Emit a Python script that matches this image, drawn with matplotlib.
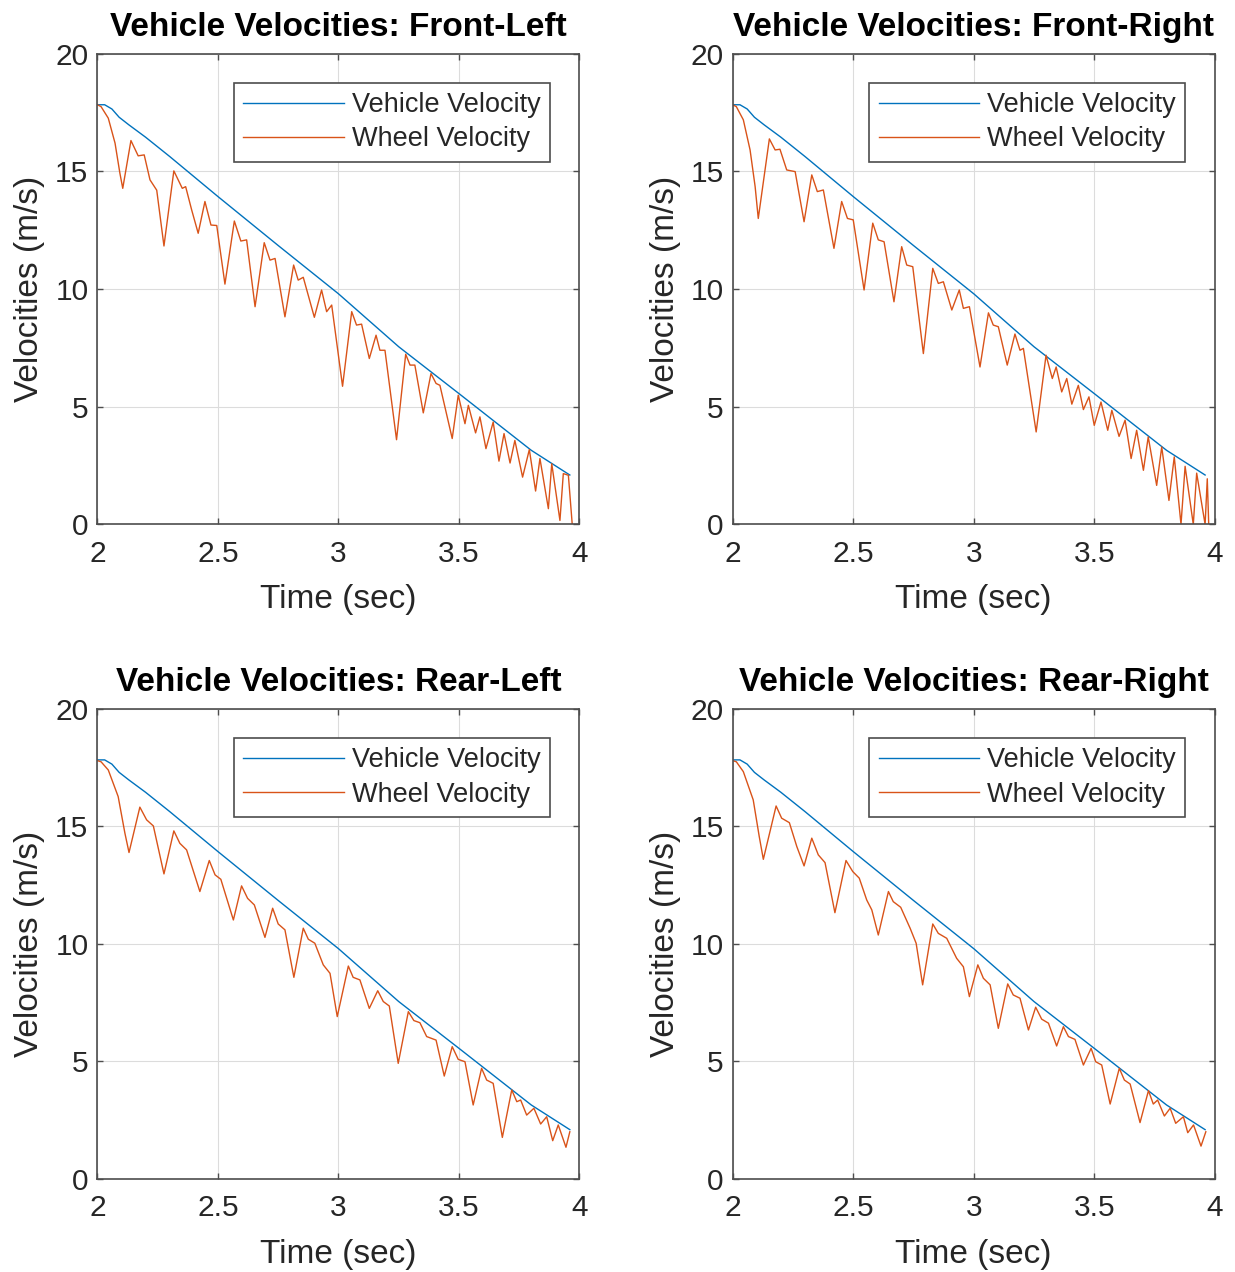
"""
Vehicle vs. wheel velocity during an ABS stop, one panel per wheel.

Saves out.png in the working directory.
"""
import matplotlib.pyplot as plt

plt.rcParams['font.family'] = ['Liberation Sans', 'DejaVu Sans']

VEH_COLOR = '#0072BD'
WHEEL_COLOR = '#D95319'
AX_COLOR = '#262626'

CORNERS = ['Front-Left', 'Front-Right', 'Rear-Left', 'Rear-Right']

# vehicle speed (same trace in every panel)
VEH_T = [2.00, 2.03, 2.06, 2.09, 2.13, 2.20, 2.30, 2.50, 2.75, 3.00, 3.25, 3.50, 3.80, 3.96]
VEH_V = [17.83, 17.83, 17.65, 17.30, 16.98, 16.45, 15.63, 13.93, 11.85, 9.80, 7.55, 5.56, 3.15, 2.10]

# wheel speeds, read peak/trough by peak/trough
FL_T = [2.000, 2.015, 2.045, 2.073, 2.093, 2.105, 2.139, 2.169, 2.194, 2.218, 2.246, 2.276,
        2.317, 2.352, 2.366, 2.391, 2.418, 2.446, 2.471, 2.495, 2.529, 2.568, 2.595, 2.619,
        2.654, 2.692, 2.716, 2.737, 2.778, 2.814, 2.833, 2.854, 2.900, 2.930, 2.951, 2.972,
        3.017, 3.055, 3.075, 3.096, 3.128, 3.156, 3.172, 3.193, 3.241, 3.279, 3.297, 3.317,
        3.352, 3.384, 3.405, 3.421, 3.472, 3.497, 3.525, 3.539, 3.569, 3.587, 3.612, 3.642,
        3.666, 3.687, 3.712, 3.732, 3.764, 3.792, 3.818, 3.836, 3.871, 3.885, 3.919, 3.933,
        3.954, 3.970]
FL_V = [17.83, 17.75, 17.26, 16.20, 14.93, 14.28, 16.31, 15.66, 15.70, 14.64, 14.20, 11.83,
        15.02, 14.28, 14.35, 13.36, 12.37, 13.72, 12.72, 12.70, 10.21, 12.89, 12.04, 12.09,
        9.25, 11.97, 11.23, 11.30, 8.82, 11.02, 10.38, 10.50, 8.80, 9.96, 9.04, 9.32,
        5.87, 9.04, 8.47, 8.51, 7.05, 8.04, 7.40, 7.40, 3.60, 7.23, 6.77, 6.77,
        4.74, 6.41, 5.99, 5.91, 3.65, 5.49, 4.28, 5.06, 3.89, 4.57, 3.22, 4.35,
        2.69, 3.86, 2.61, 3.57, 2.01, 3.18, 1.42, 2.80, 0.67, 2.58, 0.17, 2.16,
        2.09, 0.00]

FR_T = [2.000, 2.015, 2.044, 2.072, 2.093, 2.106, 2.152, 2.176, 2.196, 2.224, 2.259, 2.296,
        2.328, 2.351, 2.376, 2.420, 2.452, 2.476, 2.500, 2.545, 2.581, 2.604, 2.628, 2.669,
        2.701, 2.722, 2.747, 2.791, 2.830, 2.853, 2.874, 2.909, 2.940, 2.957, 2.982, 3.026,
        3.061, 3.081, 3.102, 3.139, 3.171, 3.192, 3.206, 3.259, 3.300, 3.326, 3.342, 3.365,
        3.386, 3.407, 3.434, 3.455, 3.478, 3.500, 3.528, 3.556, 3.573, 3.603, 3.628, 3.653,
        3.676, 3.704, 3.724, 3.759, 3.780, 3.810, 3.832, 3.860, 3.877, 3.911, 3.925, 3.960,
        3.969, 3.975]
FR_V = [17.83, 17.75, 17.19, 15.91, 14.35, 13.00, 16.38, 15.91, 15.94, 15.06, 14.99, 12.86,
        14.85, 14.14, 14.21, 11.73, 13.72, 13.00, 12.94, 9.96, 12.80, 12.09, 12.01, 9.46,
        11.80, 11.02, 10.95, 7.26, 10.88, 10.24, 10.31, 9.11, 9.96, 9.18, 9.25, 6.69,
        8.99, 8.47, 8.40, 6.77, 8.09, 7.40, 7.48, 3.93, 7.19, 6.20, 6.69, 5.63,
        6.20, 5.11, 5.91, 4.88, 5.42, 4.21, 5.20, 4.00, 4.85, 3.74, 4.43, 2.80,
        4.00, 2.30, 3.72, 1.66, 3.29, 1.02, 2.87, 0.00, 2.47, 0.00, 2.18, 0.00,
        1.94, 0.00]

RL_T = [2.000, 2.015, 2.045, 2.086, 2.114, 2.131, 2.176, 2.204, 2.232, 2.276, 2.317, 2.342,
        2.370, 2.425, 2.464, 2.488, 2.512, 2.564, 2.598, 2.623, 2.651, 2.695, 2.727, 2.750,
        2.778, 2.815, 2.854, 2.875, 2.902, 2.937, 2.965, 2.995, 3.041, 3.061, 3.089, 3.128,
        3.163, 3.186, 3.211, 3.248, 3.290, 3.313, 3.338, 3.366, 3.405, 3.439, 3.472, 3.497,
        3.525, 3.559, 3.594, 3.615, 3.642, 3.680, 3.719, 3.740, 3.756, 3.781, 3.811, 3.839,
        3.864, 3.889, 3.912, 3.944, 3.960]
RL_V = [17.80, 17.75, 17.40, 16.27, 14.71, 13.89, 15.82, 15.28, 15.02, 12.98, 14.81, 14.28,
        14.00, 12.23, 13.55, 12.94, 12.75, 11.02, 12.47, 11.94, 11.66, 10.28, 11.52, 10.85,
        10.60, 8.58, 10.67, 10.20, 10.03, 9.11, 8.75, 6.91, 9.06, 8.58, 8.47, 7.26,
        8.01, 7.55, 7.36, 4.92, 7.12, 6.74, 6.65, 6.06, 5.91, 4.38, 5.63, 5.09,
        4.99, 3.15, 4.71, 4.21, 4.07, 1.77, 3.79, 3.29, 3.36, 2.72, 3.01, 2.34,
        2.65, 1.63, 2.30, 1.35, 2.01]

RR_T = [2.000, 2.015, 2.044, 2.085, 2.110, 2.127, 2.180, 2.203, 2.235, 2.266, 2.296, 2.328,
        2.355, 2.383, 2.424, 2.470, 2.498, 2.525, 2.556, 2.577, 2.604, 2.646, 2.666, 2.697,
        2.736, 2.761, 2.788, 2.830, 2.853, 2.888, 2.929, 2.957, 2.982, 3.017, 3.040, 3.068,
        3.102, 3.141, 3.164, 3.192, 3.227, 3.257, 3.282, 3.310, 3.344, 3.372, 3.393, 3.420,
        3.455, 3.487, 3.506, 3.531, 3.566, 3.604, 3.625, 3.649, 3.690, 3.725, 3.745, 3.763,
        3.791, 3.815, 3.838, 3.870, 3.888, 3.912, 3.943, 3.963]
RR_V = [17.80, 17.75, 17.33, 16.13, 14.57, 13.60, 15.87, 15.35, 15.16, 14.14, 13.32, 14.50,
        13.79, 13.46, 11.33, 13.55, 13.08, 12.80, 11.87, 11.45, 10.38, 12.23, 11.80, 11.56,
        10.67, 10.03, 8.26, 10.85, 10.45, 10.24, 9.39, 9.03, 7.76, 9.11, 8.54, 8.26,
        6.41, 8.30, 7.83, 7.69, 6.34, 7.31, 6.80, 6.63, 5.66, 6.48, 6.06, 5.94,
        4.85, 5.56, 4.99, 4.85, 3.19, 4.71, 4.21, 4.04, 2.40, 3.76, 3.19, 3.36,
        2.68, 3.01, 2.37, 2.65, 1.97, 2.30, 1.40, 2.01]

WHEEL_DATA = [(FL_T, FL_V), (FR_T, FR_V), (RL_T, RL_V), (RR_T, RR_V)]

X_TICKS = [2, 2.5, 3, 3.5, 4]
X_TICKLABELS = ['2', '2.5', '3', '3.5', '4']
Y_TICKS = [0, 5, 10, 15, 20]

# axes rectangles in figure fractions (fig is 1235 x 1272 px)
AX_RECTS = [
    [0.0789, 0.5877, 0.3903, 0.3701],
    [0.5933, 0.5877, 0.3903, 0.3701],
    [0.0789, 0.0731, 0.3903, 0.3696],
    [0.5933, 0.0731, 0.3903, 0.3696],
]


def _style_axes(ax, corner):
    ax.set_xlim(2, 4)
    ax.set_ylim(0, 20)
    ax.set_xticks(X_TICKS)
    ax.set_xticklabels(X_TICKLABELS)
    ax.set_yticks(Y_TICKS)
    ax.grid(True, color='#dcdcdc', lw=0.8)
    ax.set_axisbelow(True)
    for spine in ax.spines.values():
        spine.set_color('#4d4d4d')
        spine.set_linewidth(1.2)
    ax.tick_params(direction='in', top=True, right=True, length=4, width=1.0,
                   color='#4d4d4d', labelsize=21.5, labelcolor=AX_COLOR)
    ax.tick_params(axis='x', pad=11)
    ax.tick_params(axis='y', pad=6.5)
    ax.set_title(f'Vehicle Velocities: {corner}', fontsize=24,
                 weight='bold', pad=13)
    ax.set_xlabel('Time (sec)', fontsize=24, color=AX_COLOR, labelpad=12)
    ax.set_ylabel('Velocities (m/s)', fontsize=24, color=AX_COLOR, labelpad=7)


fig = plt.figure(figsize=(12.35, 12.72), dpi=100)

for corner, rect, (wt, wv) in zip(CORNERS, AX_RECTS, WHEEL_DATA):
    ax = fig.add_axes(rect)
    ax.plot(VEH_T, VEH_V, color=VEH_COLOR, lw=1.0, label='Vehicle Velocity')
    ax.plot(wt, wv, color=WHEEL_COLOR, lw=1.0, solid_joinstyle='round',
            label='Wheel Velocity')
    _style_axes(ax, corner)
    leg = ax.legend(loc='upper right', bbox_to_anchor=(0.939, 0.938),
                    borderaxespad=0, fontsize=19.5, fancybox=False,
                    framealpha=1, edgecolor='#4d4d4d', handlelength=3.72,
                    handletextpad=0.3, labelspacing=0.31, borderpad=0.34)
    leg.get_frame().set_linewidth(1.2)
    for text in leg.get_texts():
        text.set_color(AX_COLOR)

fig.savefig('out.png', dpi=100)
